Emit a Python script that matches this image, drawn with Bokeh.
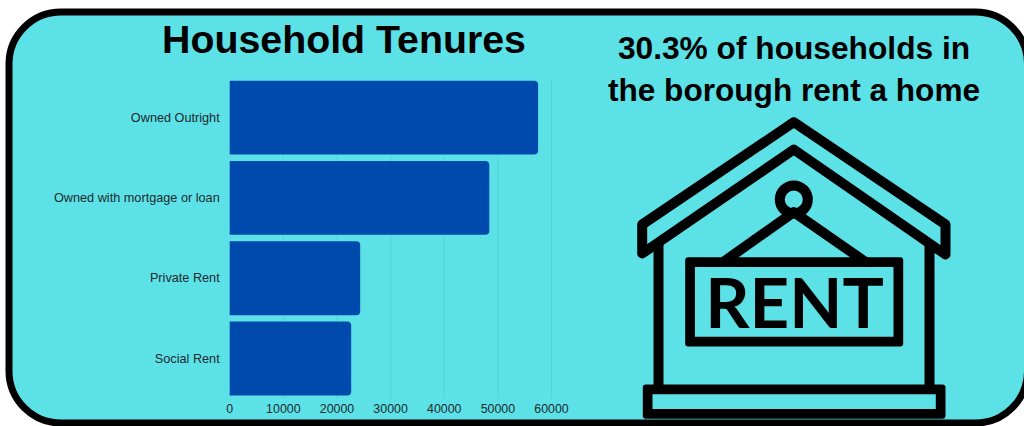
from bokeh.core.properties import value
from bokeh.embed import file_html
from bokeh.models import BoxAnnotation, LinearAxis, Range1d
from bokeh.plotting import figure
from bokeh.resources import INLINE

# Household counts by tenure type
tenures = ["Owned Outright", "Owned with mortgage or loan", "Private Rent", "Social Rent"]
households = [57500, 48400, 24330, 22650]
x_ticks = [0, 10000, 20000, 30000, 40000, 50000, 60000]
rows = [3, 2, 1, 0]

PANEL = "#5CE1E6"
BAR = "#004AAD"
GRID = "#4FD4DA"
INK = "#000000"
LABEL = "#1F2A2E"

WIDTH, HEIGHT = 1024, 426
X_PER_PX = 60000 / 321.8
ROW_PX = 80.3
ZERO_PX, LAST_ROW_PX = 229.2, 358.0

p = figure(
    width=WIDTH, height=HEIGHT, output_backend="svg", toolbar_location=None,
    x_range=Range1d(-ZERO_PX * X_PER_PX, (WIDTH - ZERO_PX) * X_PER_PX),
    y_range=Range1d((LAST_ROW_PX - HEIGHT) / ROW_PX, LAST_ROW_PX / ROW_PX),
    x_axis_type=None, y_axis_type=None,
    min_border=0, min_border_left=0, min_border_right=0, min_border_top=0, min_border_bottom=0,
    background_fill_color="#FFFFFF", border_fill_color="#FFFFFF", outline_line_color=None,
)
p.grid.visible = False

# A pixel-based range pair for the headings and the house icon
p.extra_x_ranges["px"] = Range1d(0, WIDTH)
p.extra_y_ranges["px"] = Range1d(HEIGHT, 0)

# Rounded panel behind the chart
p.add_layout(BoxAnnotation(
    left=8.5, right=1027, top=11.5, bottom=422.5,
    left_units="canvas", right_units="canvas", top_units="canvas", bottom_units="canvas",
    fill_color=PANEL, fill_alpha=1, line_color=INK, line_alpha=1, line_width=7,
    border_radius=52, level="image",
))

# Gridlines stop at the band occupied by the bars
p.segment(x0=x_ticks[1:], x1=x_ticks[1:], y0=-0.5, y1=3.46, line_color=GRID, line_width=1)

p.hbar(y=rows, right=households, left=0, height=0.92, fill_color=BAR, line_color=None,
       border_radius=(0, 4, 4, 0))

x_axis = LinearAxis(
    fixed_location=-0.49, ticker=x_ticks, axis_line_color=None,
    major_tick_line_color=None, minor_tick_line_color=None,
    major_label_text_font="Liberation Sans", major_label_text_font_size="12.4px",
    major_label_text_color=LABEL, major_label_standoff=0,
)
p.add_layout(x_axis, "below")

y_axis = LinearAxis(
    fixed_location=0, ticker=rows, axis_line_color=None,
    major_tick_line_color=None, minor_tick_line_color=None,
    major_label_overrides=dict(zip(rows, tenures)),
    major_label_text_font="Liberation Sans", major_label_text_font_size="12.7px",
    major_label_text_color=LABEL, major_label_standoff=4,
)
p.add_layout(y_axis, "left")


def heading(text, x, y, size, font="Liberation Sans"):
    p.text(
        x=[x], y=[y], text=[text], x_range_name="px", y_range_name="px",
        text_font=value(font), text_font_size=value(size), text_font_style="bold",
        text_color=INK, text_align="center", text_baseline="alphabetic",
    )


def stroke(xs, ys, cap="butt"):
    p.line(xs, ys, x_range_name="px", y_range_name="px", line_color=INK,
           line_width=10, line_join="round", line_cap=cap)


def frame_box(left, right, top, bottom):
    # Outlined box with slightly rounded outer corners
    p.quad(left=left, right=right, top=top, bottom=bottom, x_range_name="px", y_range_name="px",
           fill_color=INK, line_color=None, border_radius=3)
    p.quad(left=left + 9.7, right=right - 9.7, top=top + 9.7, bottom=bottom - 9.7,
           x_range_name="px", y_range_name="px", fill_color=PANEL, line_color=None)


heading("Household Tenures", 343.5, 38.5, "39.3px")
heading("30.3% of households in", 793.5, 47, "31.7px")
heading("the borough rent a home", 793.5, 89.5, "31.6px")

# House icon: walls, hanger, ring, sign, base and roof
stroke([658, 658], [243, 385])
stroke([929, 929], [243, 385])
stroke([722, 793.3, 865.8], [262, 211.7, 262])
p.scatter(x=[793.3], y=[199], size=28, marker="circle", x_range_name="px", y_range_name="px",
          fill_alpha=0, line_color=INK, line_width=10)
frame_box(684.7, 902.7, 256.7, 346)
frame_box(642.3, 945, 384, 418.3)
stroke([793.3, 641.7, 641.7, 793.3, 945, 945, 793.3], [121.7, 224, 253, 149, 254, 224, 121.7], cap="round")
heading("RENT", 794, 300.5, "69px", font="Lato")

open("out.html", "w").write(file_html(p, INLINE))
